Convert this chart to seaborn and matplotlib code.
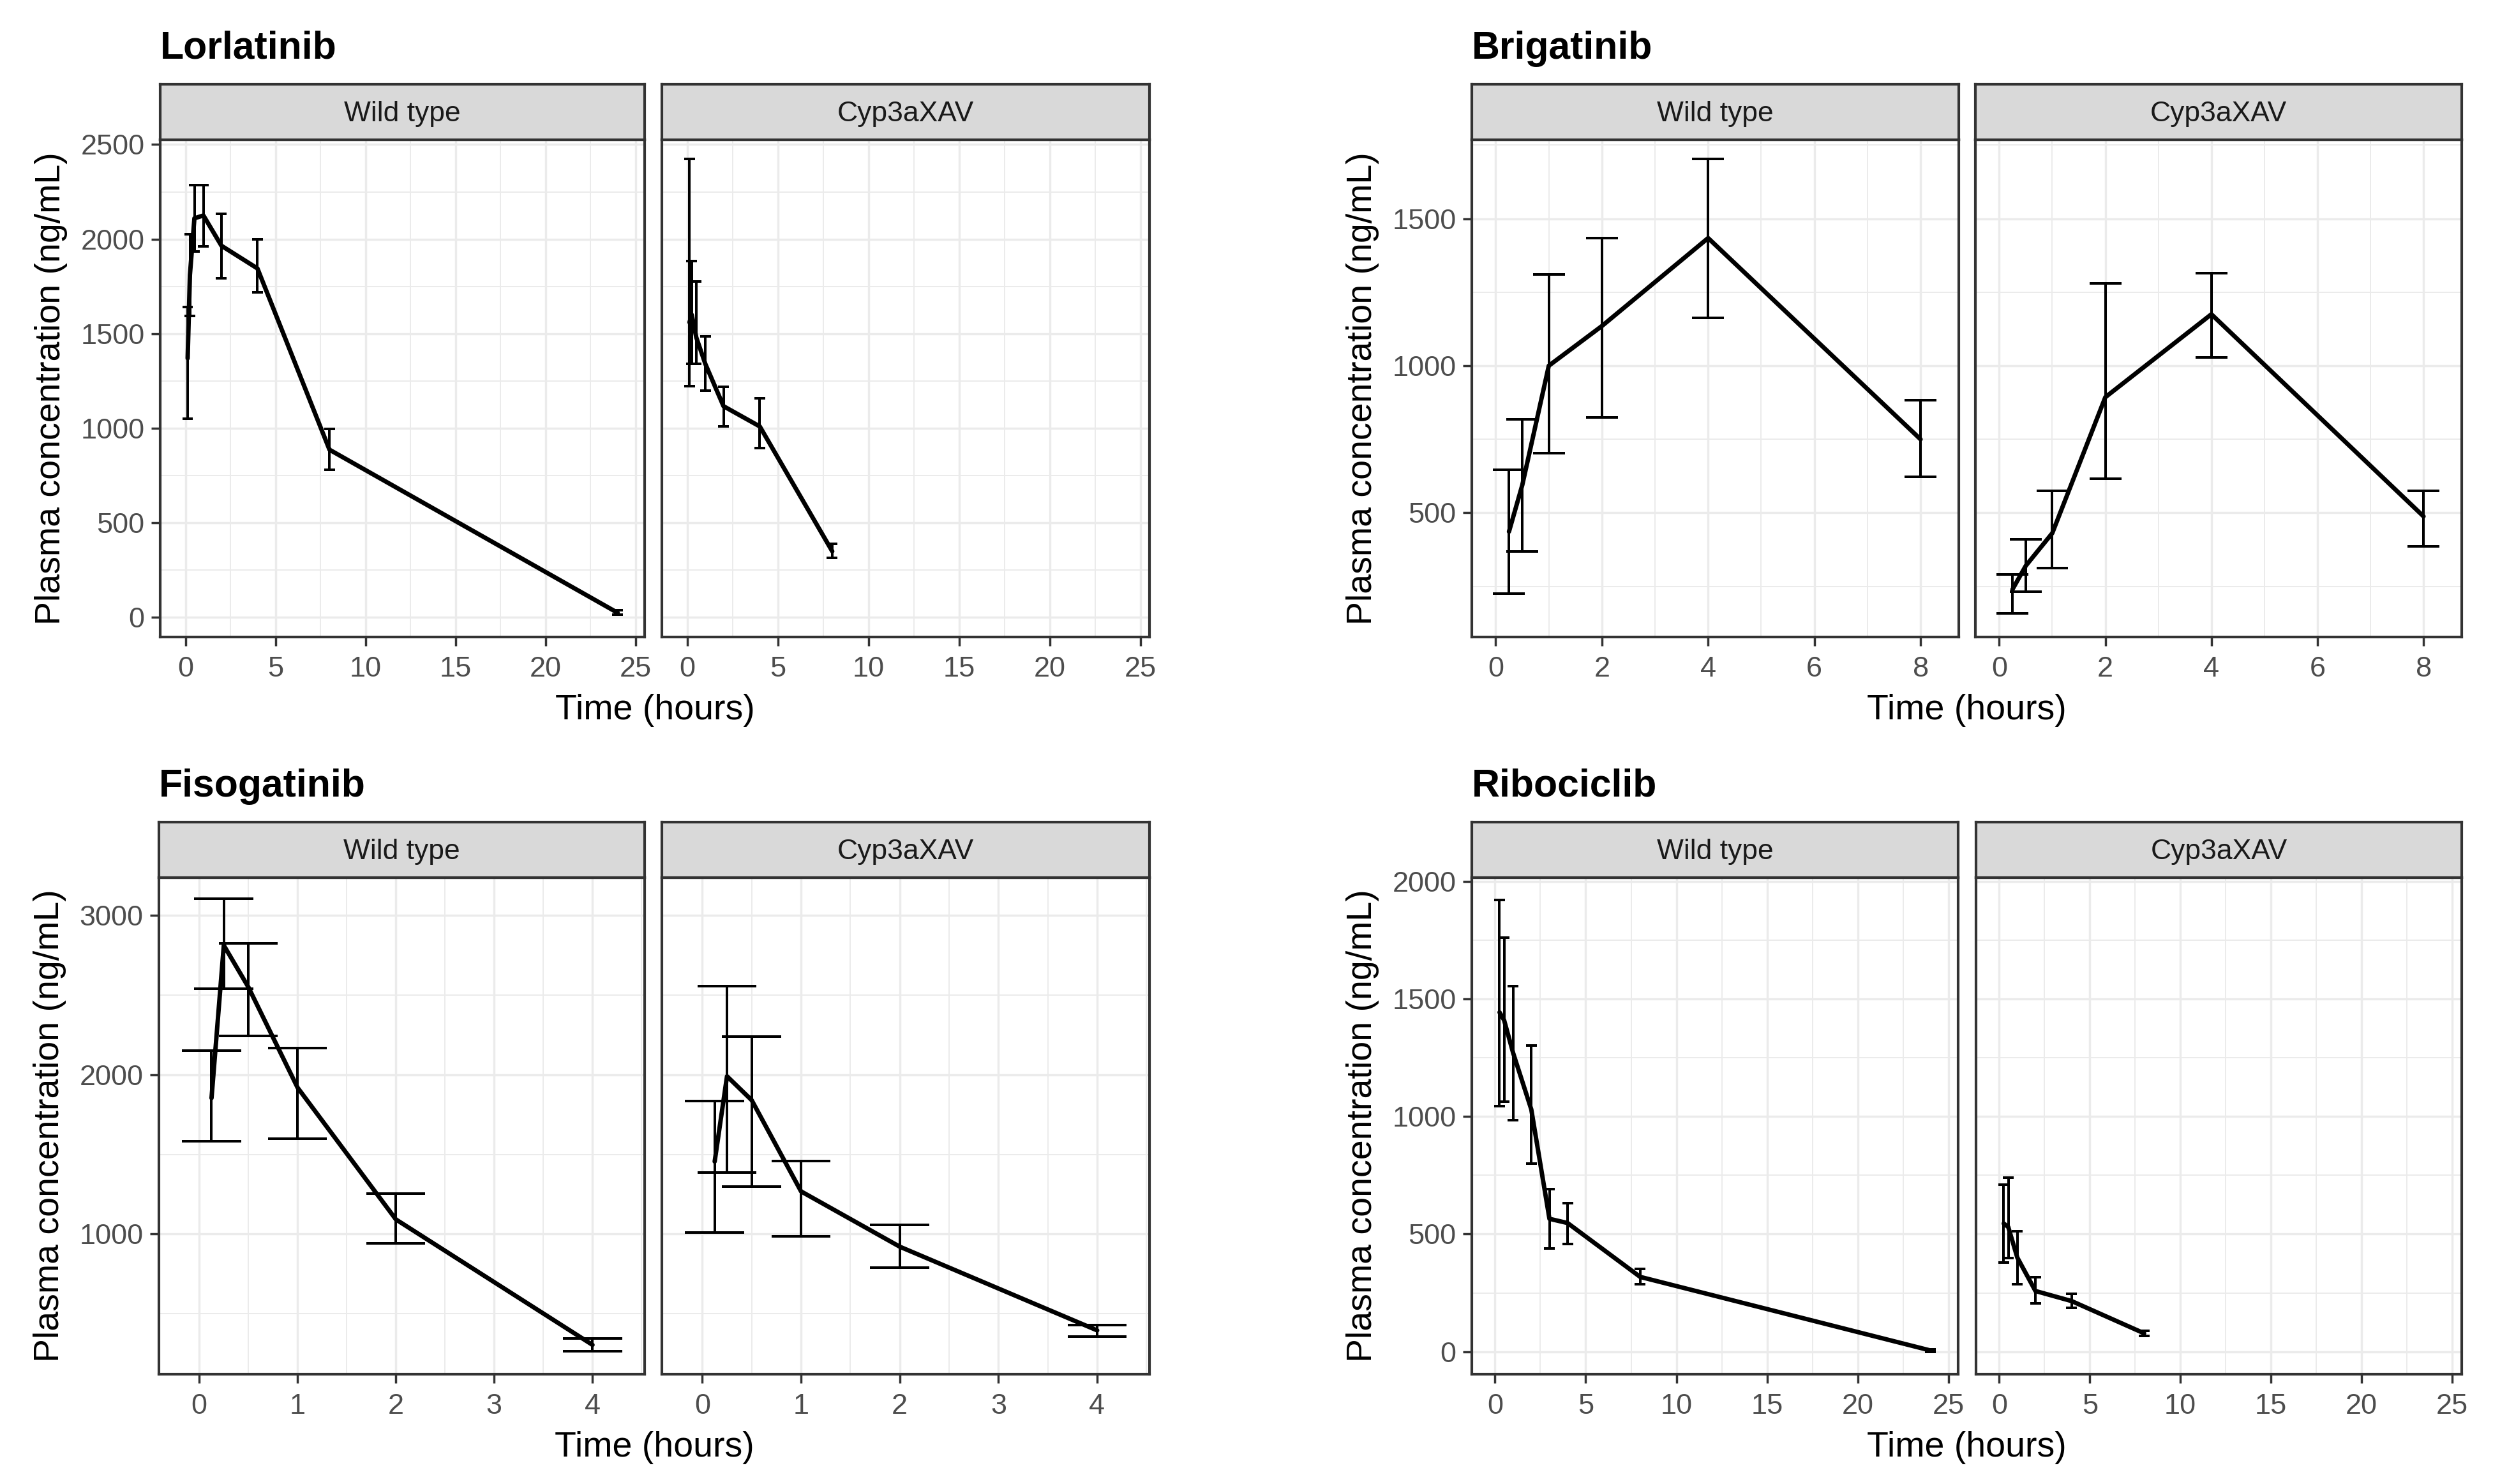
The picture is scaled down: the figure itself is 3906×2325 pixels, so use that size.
import matplotlib
matplotlib.use("Agg")
import matplotlib.pyplot as plt
import numpy as np
import pandas as pd
import seaborn as sns

# ------------------------------------------------------------------ data
genotypes = ["Wild type", "Cyp3aXAV"]
drugs = ["Lorlatinib", "Brigatinib", "Fisogatinib", "Ribociclib"]

# Lorlatinib
lorl_wt_time = [0.125, 0.25, 0.5, 1, 2, 4, 8, 24]
lorl_wt_mean = [1370, 1810, 2110, 2125, 1965, 1845, 887, 25]
lorl_wt_low = [1050, 1594, 1934, 1963, 1794, 1720, 780, 14]
lorl_wt_high = [1641, 2025, 2286, 2286, 2134, 2000, 996, 38]

lorl_cyp_time = [0.125, 0.25, 0.5, 1, 2, 4, 8]
lorl_cyp_mean = [1560, 1600, 1480, 1340, 1117, 1010, 350]
lorl_cyp_low = [1223, 1340, 1340, 1198, 1010, 897, 316]
lorl_cyp_high = [2423, 1883, 1777, 1485, 1219, 1159, 388]

# Brigatinib
brig_wt_time = [0.25, 0.5, 1, 2, 4, 8]
brig_wt_mean = [436, 594, 1000, 1135, 1434, 750]
brig_wt_low = [225, 369, 702, 825, 1162, 622]
brig_wt_high = [647, 818, 1311, 1434, 1702, 883]

brig_cyp_time = [0.25, 0.5, 1, 2, 4, 8]
brig_cyp_mean = [240, 320, 431, 893, 1175, 488]
brig_cyp_low = [159, 232, 313, 615, 1028, 387]
brig_cyp_high = [290, 410, 575, 1280, 1315, 575]

# Fisogatinib
fiso_wt_time = [0.125, 0.25, 0.5, 1, 2, 4]
fiso_wt_mean = [1853, 2811, 2549, 1919, 1092, 305]
fiso_wt_low = [1583, 2541, 2244, 1598, 940, 265]
fiso_wt_high = [2150, 3105, 2824, 2168, 1255, 344]

fiso_cyp_time = [0.125, 0.25, 0.5, 1, 2, 4]
fiso_cyp_mean = [1455, 1990, 1840, 1268, 921, 396]
fiso_cyp_low = [1010, 1388, 1297, 987, 790, 357]
fiso_cyp_high = [1835, 2554, 2241, 1459, 1058, 428]

# Ribociclib
ribo_wt_time = [0.25, 0.5, 1, 2, 3, 4, 8, 24]
ribo_wt_mean = [1443, 1410, 1270, 1030, 565, 547, 318, 5]
ribo_wt_low = [1045, 1063, 985, 800, 440, 458, 286, 0]
ribo_wt_high = [1920, 1761, 1554, 1302, 690, 632, 352, 10]

ribo_cyp_time = [0.25, 0.5, 1, 2, 4, 8]
ribo_cyp_mean = [545, 530, 400, 258, 215, 78]
ribo_cyp_low = [380, 397, 288, 204, 185, 68]
ribo_cyp_high = [709, 741, 511, 316, 245, 88]

series = {
    ("Lorlatinib", "Wild type"): (lorl_wt_time, lorl_wt_mean, lorl_wt_low, lorl_wt_high),
    ("Lorlatinib", "Cyp3aXAV"): (lorl_cyp_time, lorl_cyp_mean, lorl_cyp_low, lorl_cyp_high),
    ("Brigatinib", "Wild type"): (brig_wt_time, brig_wt_mean, brig_wt_low, brig_wt_high),
    ("Brigatinib", "Cyp3aXAV"): (brig_cyp_time, brig_cyp_mean, brig_cyp_low, brig_cyp_high),
    ("Fisogatinib", "Wild type"): (fiso_wt_time, fiso_wt_mean, fiso_wt_low, fiso_wt_high),
    ("Fisogatinib", "Cyp3aXAV"): (fiso_cyp_time, fiso_cyp_mean, fiso_cyp_low, fiso_cyp_high),
    ("Ribociclib", "Wild type"): (ribo_wt_time, ribo_wt_mean, ribo_wt_low, ribo_wt_high),
    ("Ribociclib", "Cyp3aXAV"): (ribo_cyp_time, ribo_cyp_mean, ribo_cyp_low, ribo_cyp_high),
}

rows = []
for (drug, geno), (t, m, lo, hi) in series.items():
    for a, b, c, d in zip(t, m, lo, hi):
        rows.append(dict(drug=drug, genotype=geno, time=a, mean=b, low=c, high=d))
df = pd.DataFrame(rows)

# ------------------------------------------------------------------ style
sns.set_theme(style="white")
plt.rcParams['font.family'] = ['Liberation Sans', 'DejaVu Sans']

W, H = 3906, 2325
DPI = 250
fig = plt.figure(figsize=(W / DPI, H / DPI), dpi=DPI)
fig.patch.set_facecolor("white")

BORDER = "#333333"
GRID = "#EBEBEB"
TICKTXT = "#4D4D4D"

layout = {
    "Lorlatinib": dict(cols=[(251, 1010), (1037, 1801)], top=219, bottom=998,
                       xlim=(-1.4, 25.5), ylim=(-103, 2525),
                       xmaj=np.arange(0, 26, 5), xmin=np.arange(2.5, 26, 5),
                       ymaj=np.arange(0, 2501, 500), ymin=np.arange(250, 2600, 500),
                       cap=0.6),
    "Brigatinib": dict(cols=[(2306, 3069), (3095, 3857)], top=219, bottom=998,
                       xlim=(-0.45, 8.72), ylim=(78, 1768),
                       xmaj=np.arange(0, 9, 2), xmin=np.arange(1, 9, 2),
                       ymaj=np.arange(500, 1501, 500), ymin=np.arange(250, 1800, 500),
                       cap=0.6),
    "Fisogatinib": dict(cols=[(249, 1010), (1037, 1801)], top=1375, bottom=2153,
                        xlim=(-0.41, 4.53), ylim=(121, 3236),
                        xmaj=np.arange(0, 5, 1), xmin=np.arange(0.5, 4.6, 1),
                        ymaj=np.arange(1000, 3001, 1000), ymin=np.arange(500, 3300, 1000),
                        cap=0.6),
    "Ribociclib": dict(cols=[(2306, 3068), (3096, 3857)], top=1375, bottom=2153,
                       xlim=(-1.28, 25.53), ylim=(-96, 2016),
                       xmaj=np.arange(0, 26, 5), xmin=np.arange(2.5, 26, 5),
                       ymaj=np.arange(0, 2001, 500), ymin=np.arange(250, 2000, 500),
                       cap=0.6),
}
STRIP_H = 87


def fig_rect(x0, x1, y0, y1):
    return [x0 / W, 1 - y1 / H, (x1 - x0) / W, (y1 - y0) / H]


for drug in drugs:
    L = layout[drug]
    top, bottom = L["top"], L["bottom"]
    for gi, geno in enumerate(genotypes):
        x0, x1 = L["cols"][gi]
        ax = fig.add_axes(fig_rect(x0, x1, top, bottom))
        d = df[(df.drug == drug) & (df.genotype == geno)].sort_values("time")

        ax.set_xlim(*L["xlim"])
        ax.set_ylim(*L["ylim"])
        ax.set_xticks(L["xmaj"])
        ax.set_xticks(L["xmin"], minor=True)
        ax.set_yticks(L["ymaj"])
        ax.set_yticks(L["ymin"], minor=True)
        ax.grid(True, which="major", color=GRID, lw=1.0)
        ax.grid(True, which="minor", color=GRID, lw=0.55)
        ax.set_axisbelow(True)
        ax.set_facecolor("white")

        half = L["cap"] / 2
        ax.vlines(d["time"], d["low"], d["high"], color="black", lw=1.15, zorder=3)
        ax.hlines(d["low"], d["time"] - half, d["time"] + half, color="black", lw=1.15, zorder=3)
        ax.hlines(d["high"], d["time"] - half, d["time"] + half, color="black", lw=1.15, zorder=3)
        sns.lineplot(data=d, x="time", y="mean", ax=ax, color="black", lw=2.0,
                     estimator=None, sort=True, legend=False, zorder=4)

        ax.set_xlabel("")
        ax.set_ylabel("")
        for s in ax.spines.values():
            s.set_color(BORDER)
            s.set_linewidth(1.2)
            s.set_visible(True)
        ax.tick_params(which="minor", length=0)
        ax.tick_params(axis="x", which="major", length=4, width=1.0, color=BORDER,
                       labelsize=13, labelcolor=TICKTXT, pad=4.5, bottom=True)
        if gi == 0:
            ax.tick_params(axis="y", which="major", length=4, width=1.0, color=BORDER,
                           labelsize=13, labelcolor=TICKTXT, pad=3, left=True)
        else:
            ax.tick_params(axis="y", which="major", length=0, labelleft=False)

        # facet strip
        sax = fig.add_axes(fig_rect(x0, x1, top - STRIP_H, top))
        sax.set_facecolor("#D9D9D9")
        sax.set_xticks([])
        sax.set_yticks([])
        for s in sax.spines.values():
            s.set_color(BORDER)
            s.set_linewidth(1.2)
            s.set_visible(True)
        sax.text(0.5, 0.47, geno, ha="center", va="center", fontsize=12.8,
                 color="#1A1A1A", transform=sax.transAxes)

    # drug title
    lx0 = L["cols"][0][0]
    fig.text(lx0 / W, 1 - (top - STRIP_H - 40) / H, drug, ha="left", va="baseline",
             fontsize=17.5, fontweight="bold", color="black")
    # axis titles
    xc = (L["cols"][0][0] + L["cols"][1][1]) / 2
    fig.text(xc / W, 1 - (bottom + 115) / H, "Time (hours)", ha="center", va="center",
             fontsize=16, color="black")
    fig.text((lx0 - 171) / W, 1 - ((top + bottom) / 2) / H, "Plasma concentration (ng/mL)",
             ha="center", va="center", rotation=90, fontsize=16, color="black")

fig.savefig("out.png", dpi=DPI, facecolor="white")
